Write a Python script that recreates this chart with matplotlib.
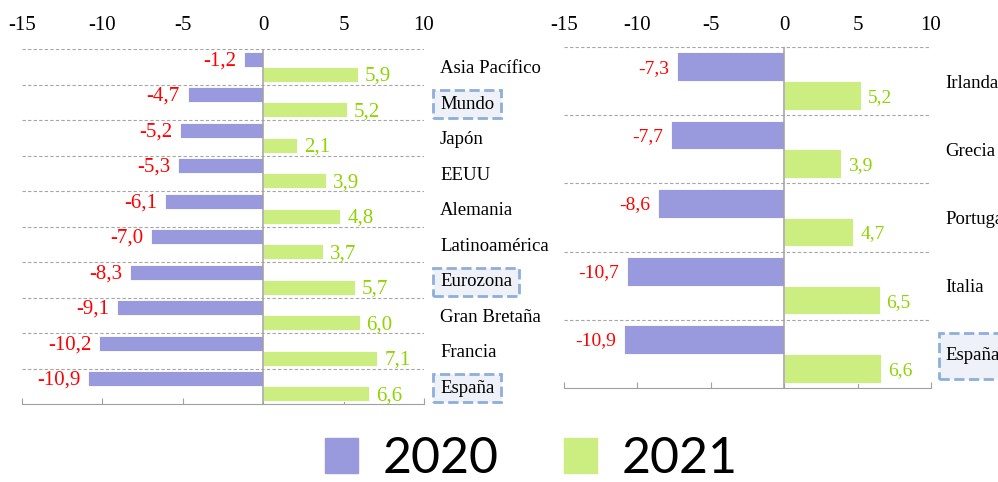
import numpy as np
import matplotlib
matplotlib.use('Agg')
import matplotlib.pyplot as plt
import matplotlib.patches as mpatches

plt.rcParams['font.family'] = ['Liberation Serif', 'DejaVu Serif']
plt.rcParams['axes.unicode_minus'] = False

# ── Data ──────────────────────────────────────────────────────────────────────
left_cats = ['Asia Pacífico', 'Mundo', 'Japón', 'EEUU', 'Alemania',
             'Latinoamérica', 'Eurozona', 'Gran Bretaña', 'Francia', 'España']
left_2020 = [-1.2, -4.7, -5.2, -5.3, -6.1, -7.0, -8.3, -9.1, -10.2, -10.9]
left_2021 = [5.9, 5.2, 2.1, 3.9, 4.8, 3.7, 5.7, 6.0, 7.1, 6.6]

right_cats = ['Irlanda', 'Grecia', 'Portugal', 'Italia', 'España']
right_2020 = [-7.3, -7.7, -8.6, -10.7, -10.9]
right_2021 = [5.2, 3.9, 4.7, 6.5, 6.6]

boxed = {'Mundo', 'Eurozona', 'España'}
x_ticks = [-15, -10, -5, 0, 5, 10]

C20, C21 = '#9999dd', '#ccee80'
T20, T21 = '#ff0000', '#8fd400'
GRID = '#a6a6a6'


def fmt(v):
    return f'{v:.1f}'.replace('.', ',')


def panel(ax, cats, v20, v21, val_fs, lab_pad, box_aspect, tick_pad):
    n = len(cats)
    y = np.arange(n)
    h = 0.42
    ax.barh(y - h / 2, v20, height=h, color=C20, edgecolor='white', lw=0.6, zorder=2)
    ax.barh(y + h / 2, v21, height=h, color=C21, edgecolor='white', lw=0.6, zorder=2)
    for yi, a, b in zip(y, v20, v21):
        ax.annotate(fmt(a), (a, yi - h / 2), xytext=(-5.5, -1), textcoords='offset points',
                    ha='right', va='center', color=T20, fontsize=val_fs,
                    family='Liberation Serif')
        ax.annotate(fmt(b), (b, yi + h / 2), xytext=(5, -1.5), textcoords='offset points',
                    ha='left', va='center', color=T21, fontsize=val_fs,
                    family='Liberation Serif')
    ax.set_xlim(-15, 10)
    ax.set_ylim(n - 0.5, -0.5)
    ax.hlines(y - 0.5, -15, 10, colors=GRID, linestyles=(0, (3, 2)), lw=0.8, zorder=1)
    ax.axvline(0, color='#a0a0a0', lw=1.1, zorder=3)
    for s in ['top', 'left', 'right']:
        ax.spines[s].set_visible(False)
    ax.spines['bottom'].set_color('#a0a0a0')
    ax.set_xticks(x_ticks)
    ax.set_xticklabels([str(t) for t in x_ticks], family='Liberation Serif', fontsize=15)
    ax.tick_params(axis='x', bottom=True, top=False, labelbottom=False, labeltop=True,
                   direction='in', length=4, color='#a0a0a0', pad=tick_pad)
    ax.yaxis.tick_right()
    ax.set_yticks(y)
    ax.set_yticklabels(cats, family='Liberation Serif', fontsize=13.5)
    ax.tick_params(axis='y', length=0, pad=lab_pad)
    for lbl in ax.get_yticklabels():
        if lbl.get_text() in boxed:
            lbl.set_bbox(dict(boxstyle='square,pad=0.36', fc='#eef2f8', ec='#8eaedb',
                              ls='--', lw=2, mutation_aspect=box_aspect))


fig = plt.figure(figsize=(9.98, 4.82), dpi=100)
ax1 = fig.add_axes([22 / 998, 1 - 404 / 482, 402 / 998, 355 / 482])
ax2 = fig.add_axes([564 / 998, 1 - 388 / 482, 367 / 998, 341 / 482])

panel(ax1, left_cats, left_2020, left_2021, 15, 11.5, 0.85, 10)
panel(ax2, right_cats, right_2020, right_2021, 14, 10.5, 2.1, 9)

handles = [mpatches.Patch(color=C20, label='2020'), mpatches.Patch(color=C21, label='2021')]
fig.legend(handles=handles, loc='center', bbox_to_anchor=(531 / 998, 1 - 459 / 482),
           ncol=2, frameon=False, prop={'family': 'Lato', 'size': 36},
           handlelength=0.66, handleheight=0.72, handletextpad=0.5, columnspacing=1.3)

fig.savefig('out.png', dpi=100)
